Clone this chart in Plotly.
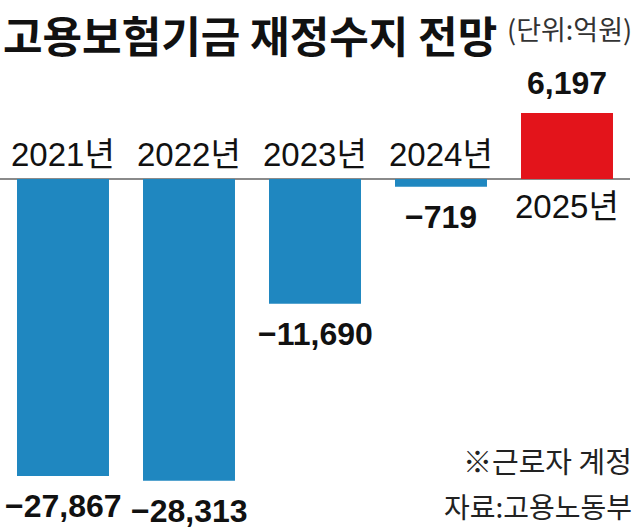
import plotly.graph_objects as go

years = ["2021년", "2022년", "2023년", "2024년", "2025년"]
values = [-27867, -28313, -11690, -719, 6197]
value_labels = ["−27,867", "−28,313", "−11,690", "−719", "6,197"]
title_text = "고용보험기금 재정수지 전망"
unit_text = "(단위:억원)"
note_text = "※근로자 계정"
source_text = "자료:고용노동부"

BLUE = "#1f87c0"
RED = "#e3141b"
colors = [RED if v > 0 else BLUE for v in values]

NUM_FONT = "Liberation Sans Narrow, Liberation Sans, Noto Sans CJK KR"
KR_FONT = "Noto Sans CJK KR"

fig = go.Figure()
fig.add_trace(go.Bar(x=years, y=values, marker=dict(color=colors, line=dict(width=0)),
                     hoverinfo="skip"))

ann = []
for yr, v, lab in zip(years, values, value_labels):
    if v < 0:
        ann.append(dict(x=yr, y=0, text=yr, showarrow=False, xref="x", yref="y",
                        yanchor="bottom", yshift=4,
                        font=dict(family=NUM_FONT, size=33, color="#111")))
        ann.append(dict(x=yr, y=v, text=lab, showarrow=False, xref="x", yref="y",
                        yanchor="top", yshift=-10,
                        font=dict(family=NUM_FONT, size=32, color="#111", weight="bold")))
    else:
        ann.append(dict(x=yr, y=0, text=yr, showarrow=False, xref="x", yref="y",
                        yanchor="top", yshift=-7,
                        font=dict(family=NUM_FONT, size=33, color="#111")))
        ann.append(dict(x=yr, y=v, text=lab, showarrow=False, xref="x", yref="y",
                        yanchor="bottom", yshift=10,
                        font=dict(family=NUM_FONT, size=32, color="#111", weight="bold")))

top = 1 + 60 / 469
ann.append(dict(x=0, y=top, xref="paper", yref="paper", xanchor="left", yanchor="top",
                xshift=1, yshift=-1, text=title_text, showarrow=False,
                font=dict(family=KR_FONT, size=43, color="#111", weight="bold")))
ann.append(dict(x=1, y=top, xref="paper", yref="paper", xanchor="right", yanchor="top",
                xshift=4, yshift=-7, text=unit_text, showarrow=False,
                font=dict(family=KR_FONT, size=27, color="#333")))
ann.append(dict(x=1, y=0.147, xref="paper", yref="paper", xanchor="right", yanchor="middle",
                xshift=4, text=note_text, showarrow=False,
                font=dict(family=KR_FONT, size=29, color="#222")))
ann.append(dict(x=1, y=0.049, xref="paper", yref="paper", xanchor="right", yanchor="middle",
                xshift=4, text=source_text, showarrow=False,
                font=dict(family=KR_FONT, size=28, color="#222")))

upp = 93.8  # data units per pixel
fig.update_layout(
    width=640, height=529,
    margin=dict(l=0, r=10, t=60, b=0),
    paper_bgcolor="white", plot_bgcolor="white",
    bargap=0.27,
    showlegend=False,
    annotations=ann,
    xaxis=dict(visible=False, range=[-0.5, 4.5], fixedrange=True),
    yaxis=dict(range=[-(529 - 179) * upp, (179 - 60) * upp], showgrid=False,
               showticklabels=False, zeroline=True, zerolinecolor="#8a8a8a",
               zerolinewidth=1.5, fixedrange=True),
)
fig.write_html("out.html", config={"displayModeBar": False})
